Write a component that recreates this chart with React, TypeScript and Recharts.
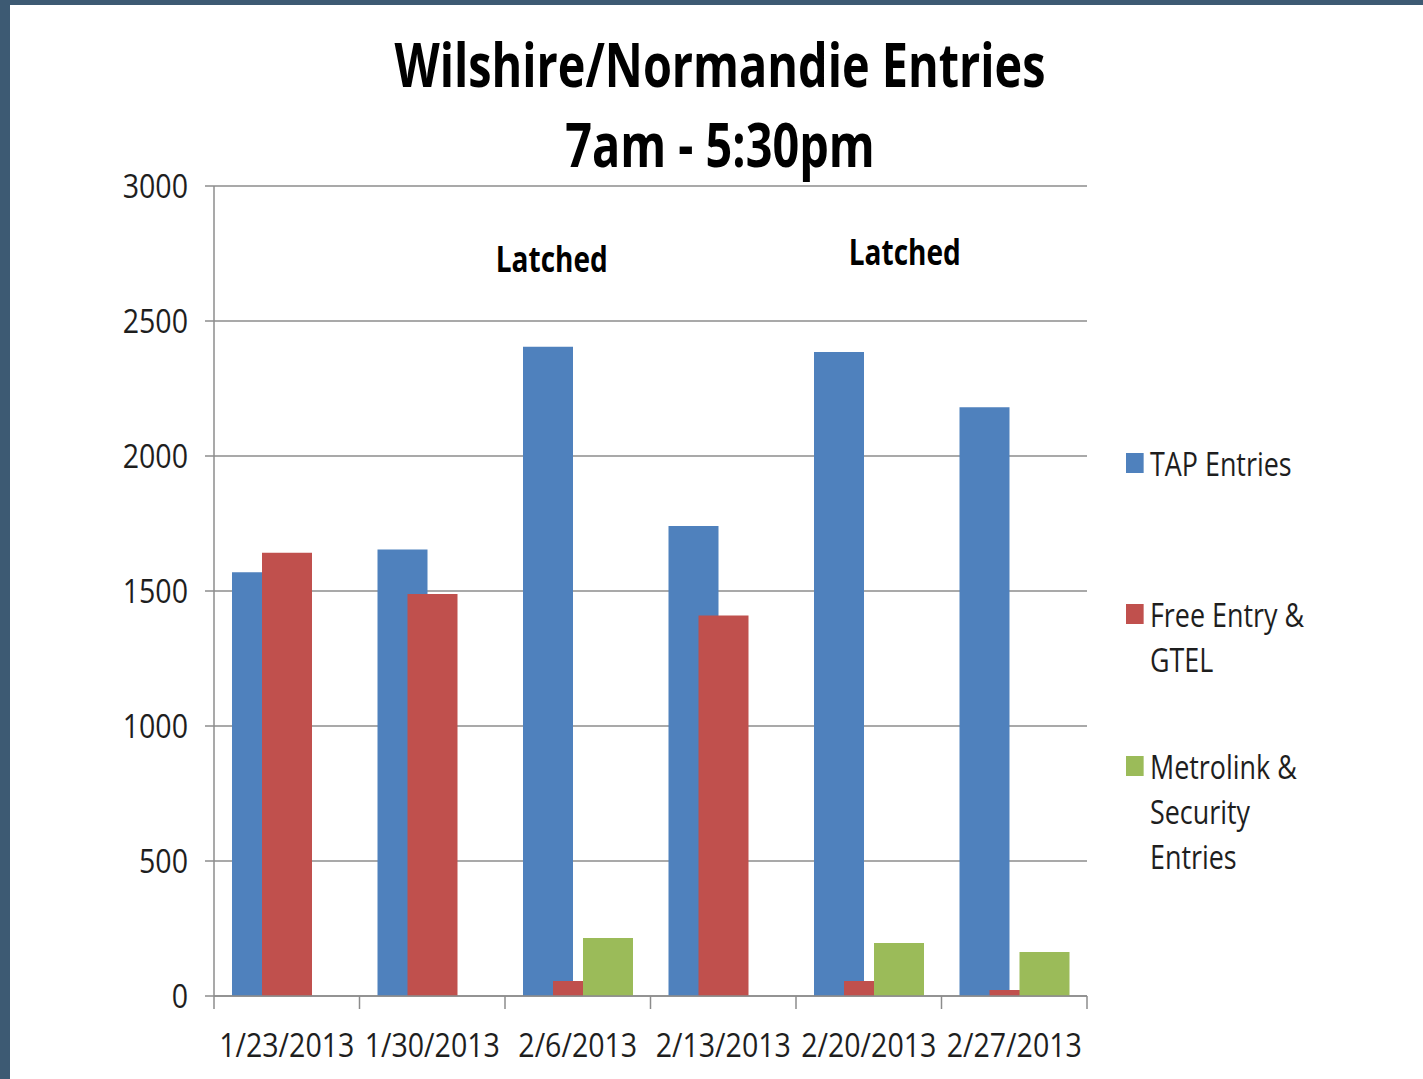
import React from 'react';
import { BarChart, Bar, XAxis, YAxis, CartesianGrid, Legend, ReferenceDot } from 'recharts';

// ---- data ----
const dates = ['1/23/2013', '1/30/2013', '2/6/2013', '2/13/2013', '2/20/2013', '2/27/2013'];
const tapEntries = [1569, 1654, 2405, 1741, 2385, 2181];
const freeEntryGtel = [1642, 1489, 56, 1409, 56, 22];
const metrolinkSecurity = [0, 0, 215, 0, 196, 163];
const yTicks = [0, 500, 1000, 1500, 2000, 2500, 3000];
const seriesNames = ['TAP Entries', 'Free Entry & GTEL', 'Metrolink & Security Entries'];
const titleLines = ['Wilshire/Normandie Entries', '7am - 5:30pm'];
const annotationDates = ['2/6/2013', '2/20/2013'];
const annotationValues = [2682, 2707];
const annotationTexts = ['Latched', 'Latched'];

// ---- styles ----
const FONT = '"Open Sans", "Noto Sans", sans-serif';
const SX_TICK = 0.85;
const SX_LEGEND = 0.84;
const SX_TITLE = 0.76;
const SX_ANNOT = 0.8;
const COLORS = ['#4f81bd', '#c0504d', '#9bbb59'];
const GRID = '#8c8c8c';
const TEXT = '#1e1e1e';
const W = 1423;
const H = 1079;
const TICK_SIZE = 10;
const TICK_MARGIN = 27;
const ANNOT_SHIFT = [-26, 36];
const LEGEND_GAPS = [0, 106, 62];
const TITLE_X = 720;
const TITLE_BASELINES = [87, 167];

const data = dates.map((d, i) => ({
  date: d,
  tap: tapEntries[i],
  free: freeEntryGtel[i],
  metro: metrolinkSecurity[i],
}));

const SqueezedText = ({ x, y, anchor, size, bold, dy, sx, children }: any) => (
  <text
    transform={`translate(${x},${y}) scale(${sx},1)`}
    x={0}
    y={0}
    dy={dy}
    textAnchor={anchor}
    fontFamily={FONT}
    fontWeight={bold ? 'bold' : 'normal'}
    fontSize={size}
    fill={bold ? '#000' : TEXT}
  >
    {children}
  </text>
);

const XTick = (props: any) => {
  const { x, y, payload, index } = props;
  const half = payload && payload.offset ? payload.offset : 145.5 / 2;
  const axisY = y - TICK_SIZE - TICK_MARGIN;
  return (
    <g>
      <line x1={x - half} x2={x - half} y1={axisY} y2={axisY + 13} stroke={GRID} strokeWidth={1.5} />
      {index === dates.length - 1 && (
        <line x1={x + half} x2={x + half} y1={axisY} y2={axisY + 13} stroke={GRID} strokeWidth={1.5} />
      )}
      <SqueezedText x={x} y={y} dy="0.71em" anchor="middle" size={33.6} sx={SX_TICK}>
        {payload.value}
      </SqueezedText>
    </g>
  );
};

const YTick = (props: any) => {
  const { x, y, payload } = props;
  return (
    <SqueezedText x={x} y={y} dy="0.355em" anchor="end" size={33.6} sx={SX_TICK}>
      {payload.value}
    </SqueezedText>
  );
};

const LegendContent = (props: any) => {
  const items = seriesNames.map((n, i) => {
    const found = (props.payload || []).find((p: any) => p.value === n);
    return { value: n, color: found && found.color ? found.color : COLORS[i] };
  });
  return (
    <div
      style={{
        fontFamily: FONT,
        fontSize: 32,
        lineHeight: '45px',
        color: TEXT,
        transform: `scaleX(${SX_LEGEND})`,
        transformOrigin: 'left top',
      }}
    >
      {items.map((p, i) => (
        <div key={i} style={{ position: 'relative', marginTop: LEGEND_GAPS[i], paddingLeft: 24 / SX_LEGEND, width: 200 }}>
          <span
            style={{
              position: 'absolute',
              left: 0,
              top: 12,
              width: 18 / SX_LEGEND,
              height: 20,
              background: p.color,
            }}
          />
          {p.value}
        </div>
      ))}
    </div>
  );
};

export default function App() {
  return (
    <div style={{ position: 'absolute', left: 0, top: 0, width: W, height: H, background: '#3d5a73', overflow: 'hidden' }}>
      <div style={{ position: 'absolute', left: 10, top: 5, width: W - 10, height: H - 5, background: '#ffffff' }} />
      <div style={{ position: 'absolute', left: 0, top: 0 }}>
        <BarChart
          width={W}
          height={H}
          data={data}
          margin={{ top: 186, right: 336, left: 0, bottom: 23 }}
          barSize={50}
          barGap={-20}
        >
          <CartesianGrid vertical={false} stroke={GRID} strokeWidth={1.5} />
          <XAxis
            dataKey="date"
            interval={0}
            height={60}
            tickSize={TICK_SIZE}
            tickMargin={TICK_MARGIN}
            tickLine={false}
            axisLine={{ stroke: GRID, strokeWidth: 1.5 }}
            tick={<XTick />}
          />
          <YAxis
            width={214}
            domain={[0, 3000]}
            ticks={yTicks}
            interval={0}
            tickSize={9}
            tickMargin={17}
            axisLine={{ stroke: GRID, strokeWidth: 1.5 }}
            tickLine={{ stroke: GRID, strokeWidth: 1.5 }}
            tick={<YTick />}
          />
          <Bar dataKey="tap" name={seriesNames[0]} fill={COLORS[0]} isAnimationActive={false} />
          <Bar dataKey="free" name={seriesNames[1]} fill={COLORS[1]} isAnimationActive={false} />
          <Bar dataKey="metro" name={seriesNames[2]} fill={COLORS[2]} isAnimationActive={false} />
          {annotationDates.map((d, i) => (
            <ReferenceDot
              key={i}
              x={d}
              y={annotationValues[i]}
              r={0}
              fill="none"
              stroke="none"
              label={{
                content: (p: any) => {
                  const vb = p.viewBox || {};
                  const cx = (vb.x || 0) + (vb.width || 0) / 2;
                  const cy = (vb.y || 0) + (vb.height || 0) / 2;
                  return (
                    <SqueezedText x={cx + ANNOT_SHIFT[i]} y={cy} anchor="middle" size={35} bold sx={SX_ANNOT}>
                      {annotationTexts[i]}
                    </SqueezedText>
                  );
                },
              }}
            />
          ))}
          <Legend
            layout="vertical"
            align="center"
            verticalAlign="middle"
            wrapperStyle={{ left: 1126, top: 441, width: 200 }}
            content={<LegendContent />}
          />
        </BarChart>
      </div>
      <svg
        width={W}
        height={H}
        style={{ position: 'absolute', left: 0, top: 0, pointerEvents: 'none' }}
      >
        {titleLines.map((t, i) => (
          <SqueezedText key={i} x={TITLE_X} y={TITLE_BASELINES[i]} anchor="middle" size={61.6} bold sx={SX_TITLE}>
            {t}
          </SqueezedText>
        ))}
      </svg>
    </div>
  );
}
